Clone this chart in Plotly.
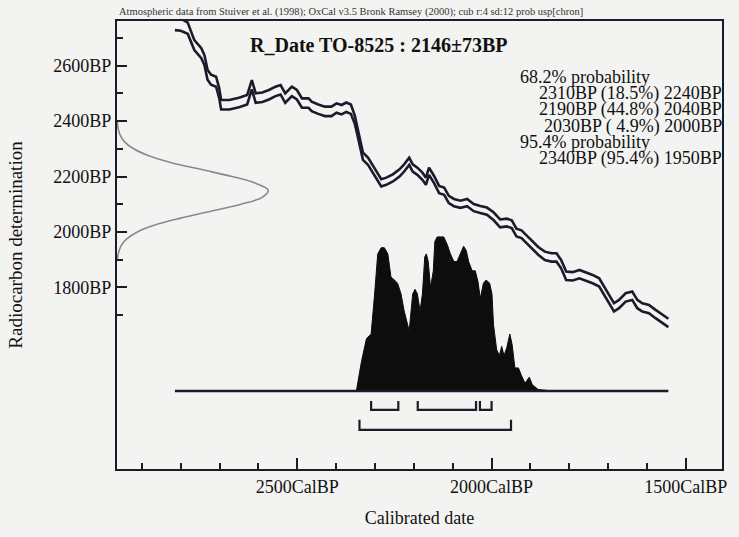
import plotly.graph_objects as go

# ---------------- data ----------------
# calibration curve (cal BP) with radiocarbon mean (BP) and 1-sigma (BP)
cal_bp = [2815, 2800, 2782, 2765, 2747, 2739, 2731, 2722, 2709, 2701,
          2696, 2675, 2650, 2629, 2617, 2607, 2590, 2573, 2556, 2543,
          2531, 2514, 2501, 2488, 2471, 2463, 2446, 2429, 2412, 2399,
          2386, 2374, 2362, 2352, 2348, 2339, 2331, 2318, 2310, 2297,
          2284, 2271, 2254, 2237, 2225, 2212, 2203, 2191, 2178, 2169,
          2161, 2148, 2135, 2122, 2110, 2097, 2080, 2063, 2046, 2029,
          2012, 1995, 1978, 1961, 1948, 1936, 1923, 1910, 1897, 1880,
          1863, 1846, 1833, 1821, 1808, 1791, 1774, 1757, 1740, 1723,
          1710, 1697, 1685, 1672, 1655, 1638, 1625, 1612, 1595, 1578,
          1561, 1545]
c14_mean = [2750, 2748, 2735, 2674, 2645, 2620, 2567, 2549, 2542, 2501,
            2459, 2459, 2467, 2477, 2531, 2483, 2486, 2495, 2507, 2513,
            2483, 2507, 2495, 2465, 2465, 2453, 2443, 2435, 2435, 2447,
            2441, 2450, 2443, 2405, 2380, 2321, 2273, 2255, 2237, 2207,
            2177, 2183, 2195, 2213, 2231, 2255, 2231, 2219, 2201, 2183,
            2219, 2189, 2153, 2147, 2117, 2106, 2100, 2106, 2088, 2081,
            2075, 2057, 2031, 2034, 2028, 1998, 1992, 1974, 1956, 1932,
            1914, 1908, 1908, 1884, 1842, 1840, 1848, 1840, 1830, 1818,
            1788, 1758, 1728, 1740, 1764, 1770, 1740, 1728, 1722, 1704,
            1686, 1672]
c14_sigma = [22, 22, 20, 18, 18, 18, 18, 18, 18, 18,
             17, 17, 17, 17, 17, 17, 17, 17, 17, 17,
             17, 17, 17, 17, 17, 17, 17, 17, 17, 17,
             17, 17, 17, 15, 14, 13, 13, 13, 13, 13,
             13, 13, 13, 13, 13, 13, 13, 13, 13, 13,
             13, 13, 13, 13, 13, 13, 13, 13, 13, 13,
             13, 14, 14, 14, 14, 14, 14, 14, 14, 14,
             15, 15, 15, 15, 15, 15, 15, 15, 15, 15,
             15, 15, 15, 15, 15, 15, 15, 15, 15, 15,
             15, 15]

gauss_bp = [2400, 2375, 2350, 2325, 2300, 2275, 2250, 2225, 2200, 2175, 2150,
            2125, 2100, 2075, 2050, 2025, 2000, 1975, 1950, 1925, 1900]
gauss_prob = [0.002, 0.007, 0.02, 0.05, 0.11, 0.21, 0.36, 0.56, 0.76, 0.92, 1.0,
              0.96, 0.82, 0.62, 0.42, 0.25, 0.135, 0.064, 0.027, 0.01, 0.003]

# calibrated probability distribution
post_cal = [2348, 2335, 2322, 2310, 2301, 2293, 2284, 2276, 2267, 2259,
            2250, 2242, 2233, 2225, 2216, 2212, 2203, 2197, 2191, 2184,
            2178, 2172, 2168, 2163, 2157, 2150, 2146, 2140, 2123, 2114,
            2106, 2097, 2089, 2080, 2072, 2065, 2059, 2050, 2042, 2035,
            2029, 2021, 2014, 2005, 1999, 1995, 1987, 1980, 1974, 1968,
            1961, 1953, 1947, 1940, 1931, 1923, 1914, 1903, 1895, 1880,
            1842]
post_prob = [0, 0.19, 0.34, 0.37, 0.63, 0.89, 0.93, 0.93, 0.89, 0.74,
             0.72, 0.70, 0.63, 0.52, 0.43, 0.39, 0.63, 0.66, 0.63, 0.52,
             0.63, 0.87, 0.89, 0.84, 0.67, 0.78, 0.97, 1.0, 1.0, 0.95,
             0.89, 0.84, 0.84, 0.89, 0.94, 0.91, 0.84, 0.78, 0.78, 0.71,
             0.60, 0.70, 0.72, 0.70, 0.63, 0.43, 0.27, 0.23, 0.29, 0.23,
             0.28, 0.37, 0.30, 0.15, 0.15, 0.10, 0.05, 0.09, 0.04, 0.01,
             0]

# probability ranges (cal BP)
range68 = [(2310, 2240), (2190, 2040), (2030, 2000)]
range95 = [(2340, 1950)]

x_tickvals = [2500, 2000, 1500]
x_ticktext = ["2500CalBP", "2000CalBP", "1500CalBP"]
x_minor = [2900, 2800, 2700, 2600, 2400, 2300, 2200, 2100, 1900, 1800, 1700, 1600]
y_tickvals = [1800, 2000, 2200, 2400, 2600]
y_ticktext = ["1800BP", "2000BP", "2200BP", "2400BP", "2600BP"]
y_minor = [1700, 1900, 2100, 2300, 2500, 2700]

title_text = "R_Date TO-8525 : 2146±73BP"
caption_text = ("Atmospheric data from Stuiver et al. (1998); OxCal v3.5 Bronk Ramsey (2000); "
                "cub r:4 sd:12 prob usp[chron]")
stats_lines = ["68.2% probability",
               "2310BP (18.5%) 2240BP",
               "2190BP (44.8%) 2040BP",
               "2030BP ( 4.9%) 2000BP",
               "95.4% probability",
               "2340BP (95.4%) 1950BP"]

# ---------------- figure ----------------
FONT = "Liberation Serif, Times New Roman, serif"
INK = "#1b1b2b"
BG = "#f3f3f1"

upper = [m + s for m, s in zip(c14_mean, c14_sigma)]
lower = [m - s for m, s in zip(c14_mean, c14_sigma)]

fig = go.Figure()

# grey radiocarbon measurement on the y-axis
fig.add_trace(go.Scatter(x=gauss_prob, y=gauss_bp, xaxis="x2", yaxis="y",
                         mode="lines", line=dict(color="#8a8a8a", width=1.6, shape="spline"),
                         hoverinfo="skip"))

# calibration curve
for band in (upper, lower):
    fig.add_trace(go.Scatter(x=cal_bp, y=band, mode="lines",
                             line=dict(color=INK, width=2.6), hoverinfo="skip"))

# posterior distribution
fig.add_trace(go.Scatter(x=post_cal, y=post_prob, xaxis="x", yaxis="y2",
                         mode="lines", fill="tozeroy", fillcolor="#0d0d0d",
                         line=dict(color="#0d0d0d", width=1), hoverinfo="skip"))
# baseline
fig.add_trace(go.Scatter(x=[cal_bp[0], cal_bp[-1]], y=[0, 0], xaxis="x", yaxis="y2",
                         mode="lines", line=dict(color=INK, width=2.4), hoverinfo="skip"))

# range brackets
def bracket_xy(ranges, top, bottom):
    xs, ys = [], []
    for a, b in ranges:
        xs += [a, a, b, b, None]
        ys += [top, bottom, bottom, top, None]
    return xs, ys

for ranges, top, bottom in ((range68, -0.065, -0.122), (range95, -0.187, -0.252)):
    bx, by = bracket_xy(ranges, top, bottom)
    fig.add_trace(go.Scatter(x=bx, y=by, xaxis="x", yaxis="y2", mode="lines",
                             line=dict(color=INK, width=2.2), hoverinfo="skip"))

def px_x(p):
    return (p - 117) / 610

def px_y(p):
    return (471 - p) / 450

annotations = [
    dict(text=caption_text, xref="paper", yref="paper", x=px_x(117), y=px_y(12),
         xanchor="left", yanchor="middle", showarrow=False,
         font=dict(family=FONT, size=10.5, color="#333")),
    dict(text="<b>%s</b>" % title_text, xref="paper", yref="paper",
         x=px_x(381), y=px_y(45), xanchor="center", yanchor="middle",
         showarrow=False, font=dict(family=FONT, size=20, color="#111")),
]
stat_y = [77, 93.5, 110, 126.5, 143, 159.5]
for line, yy in zip(stats_lines, stat_y):
    if "probability" in line:
        annotations.append(dict(text=line, xref="paper", yref="paper",
                                x=px_x(521), y=px_y(yy),
                                xanchor="left", yanchor="middle", showarrow=False,
                                font=dict(family=FONT, size=18, color="#111")))
    else:
        annotations.append(dict(text=line, xref="paper", yref="paper",
                                x=px_x(729), y=px_y(yy),
                                xanchor="right", yanchor="middle", showarrow=False,
                                font=dict(family=FONT, size=18, color="#111")))

fig.update_layout(
    width=739, height=537,
    margin=dict(l=117, r=12, t=21, b=66),
    paper_bgcolor=BG, plot_bgcolor=BG,
    showlegend=False,
    font=dict(family=FONT, size=18, color="#111"),
    xaxis=dict(range=[2964, 1407], showgrid=False, zeroline=False,
               showline=True, linecolor=INK, linewidth=2, mirror=True,
               ticks="inside", ticklen=11, tickwidth=2, tickcolor=INK,
               tickmode="array", tickvals=x_tickvals, ticktext=x_ticktext,
               tickfont=dict(family=FONT, size=18, color="#111"),
               minor=dict(tickmode="array", tickvals=x_minor, ticks="inside",
                          ticklen=6, tickwidth=2, tickcolor=INK),
               title=dict(text="Calibrated date", standoff=16,
                          font=dict(family=FONT, size=18, color="#111"))),
    yaxis=dict(range=[1145, 2761], showgrid=False, zeroline=False,
               showline=True, linecolor=INK, linewidth=2, mirror=True,
               ticks="inside", ticklen=10, tickwidth=2, tickcolor=INK,
               tickmode="array", tickvals=y_tickvals, ticktext=y_ticktext,
               tickfont=dict(family=FONT, size=18, color="#111"),
               minor=dict(tickmode="array", tickvals=y_minor, ticks="inside",
                          ticklen=6, tickwidth=2, tickcolor=INK),
               title=dict(text="Radiocarbon determination", standoff=26,
                          font=dict(family=FONT, size=19, color="#111"))),
    xaxis2=dict(overlaying="x", range=[0, 4.0], visible=False),
    yaxis2=dict(overlaying="y", range=[-0.506, 2.401], visible=False),
    annotations=annotations,
)

fig.write_html("out.html")
